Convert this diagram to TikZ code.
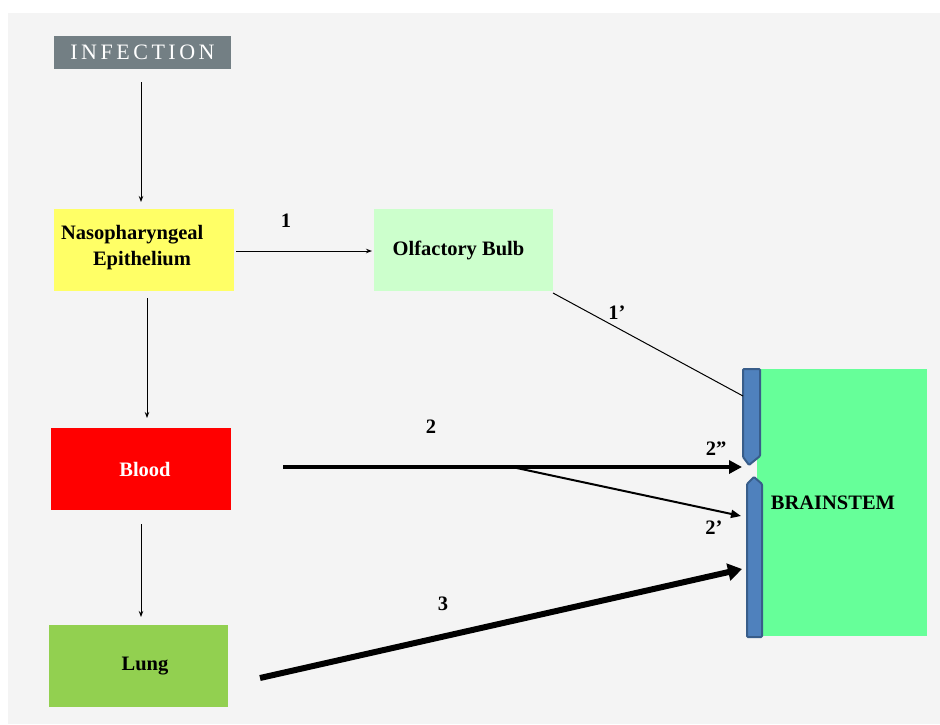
\documentclass[tikz,border=0pt]{standalone}
\usepackage{fontspec}
\setmainfont{Liberation Serif}
\newfontfamily\infont[LetterSpace=16]{Liberation Serif}
\usetikzlibrary{arrows.meta}
\definecolor{bggrey}{HTML}{F4F4F4}
\definecolor{infgrey}{HTML}{737F84}
\definecolor{nasoyellow}{HTML}{FFFF66}
\definecolor{olfgreen}{HTML}{CCFFCC}
\definecolor{bloodred}{HTML}{FF0000}
\definecolor{lunggreen}{HTML}{92D050}
\definecolor{braingreen}{HTML}{66FF99}
\definecolor{barblue}{HTML}{4F81BD}
\definecolor{barborder}{HTML}{385D8A}
\tikzset{
  box/.style={rectangle, inner sep=0pt, outer sep=0pt, minimum height=82pt,
    font=\fontsize{20.5pt}{23pt}\selectfont\bfseries},
  lbl/.style={inner sep=0pt, font=\fontsize{20.5pt}{23pt}\selectfont\bfseries},
  thinarr/.style={draw=black, line width=1pt, -{Stealth[length=6pt,width=4.5pt]}},
  bar/.style={fill=barblue, draw=barborder, line width=2pt, rounded corners=1pt}
}
\begin{document}
\begin{tikzpicture}[x=1pt,y=-1pt]
\useasboundingbox (0,0) rectangle (940,724);
\fill[white] (0,0) rectangle (940,724);
\fill[bggrey] (8,13) rectangle (940,724);

\node[box, fill=infgrey, minimum width=177pt, minimum height=33pt, text=white,
  font={\infont\fontsize{22pt}{24pt}\selectfont}] (inf) at (142.5,52.5) {INFECTION};
\node[box, fill=nasoyellow, minimum width=180pt, text width=166pt, inner xsep=7pt, align=left]
  (naso) at (144,250) {\\[-14pt]Nasopharyngeal\\[3pt]\hspace*{32pt}Epithelium};
\node[box, fill=olfgreen, minimum width=179pt] (olf) at (463.5,250) {\raisebox{-3pt}{\hspace*{-10pt}Olfactory Bulb}};
\node[box, fill=bloodred, minimum width=180pt, text=white] (blood) at (141,469) {\hspace*{8pt}Blood};
\node[box, fill=lunggreen, minimum width=179pt] (lung) at (138.5,666) {\raisebox{-3pt}{\hspace*{13pt}Lung}};
\node[box, fill=braingreen, minimum width=170pt, minimum height=267pt] (brain) at (842,502.5) {\hspace*{-18pt}BRAINSTEM};

% barrier bars
\path[bar] (743,369) -- (760,369) -- (760,456) -- (749,465) -- (743,457) -- cycle;
\path[bar] (747,637) -- (762,637) -- (762,484) -- (754,477) -- (747,484) -- cycle;

\coordinate (e1) at (743,396);
\coordinate (e2) at (742,467);
\coordinate (e2p) at (741,516);
\coordinate (e3) at (742,569);
\coordinate (split) at (512,467);

\draw[thinarr, shorten <=13pt, shorten >=7pt] ([xshift=-1.5pt]inf.south) -- ([xshift=-3pt]naso.north);
\draw[thinarr, shorten <=7pt, shorten >=10pt] ([xshift=3pt]naso.south) -- ([xshift=6pt]blood.north);
\draw[thinarr, shorten <=14pt, shorten >=8pt] (blood.south) -- ([xshift=2.5pt]lung.north);
\draw[thinarr, shorten <=2pt, shorten >=2pt] ([yshift=-1pt]naso.east) -- ([yshift=-1pt]olf.west);
\draw[line width=1pt] ([yshift=-2pt]olf.south east) -- (e1);

\draw[line width=4pt, -{Triangle[length=13pt,width=13pt]}] ([xshift=52pt,yshift=2pt]blood.east) -- (e2);
\draw[line width=2pt, -{Triangle[length=10pt,width=8pt]}] (split) -- (e2p);
\draw[line width=6pt, -{Triangle[length=14pt,width=17pt]}] ([xshift=32pt,yshift=-12pt]lung.east) -- (e3);

\node[lbl] (l1) at (286,221) {1};
\node[lbl] (l1p) at (617,313) {1’};
\node[lbl] (l2) at (431,427) {2};
\node[lbl] (l2pp) at (716,449) {2”};
\node[lbl] (l2p) at (714,528) {2’};
\node[lbl] (l3) at (443,604) {3};
\end{tikzpicture}
\end{document}
